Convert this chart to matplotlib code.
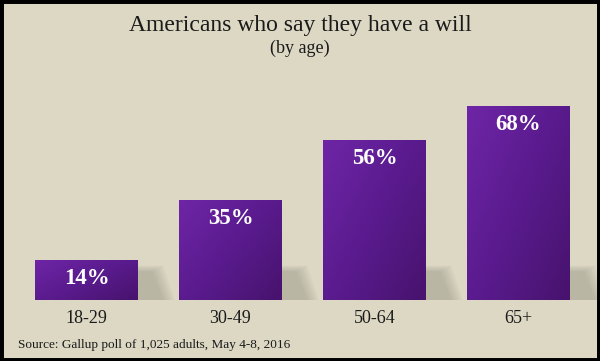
import numpy as np
import matplotlib.pyplot as plt
from matplotlib.patches import Rectangle, Polygon
from matplotlib.colors import LinearSegmentedColormap

# data
ages = ["18-29", "30-49", "50-64", "65+"]
share = [14, 35, 56, 68]
title = "Americans who say they have a will"
subtitle = "(by age)"
source = "Source: Gallup poll of 1,025 adults, May 4-8, 2016"

bg = "#dcd8c4"
serif = ["Liberation Serif", "DejaVu Serif"]

fig = plt.figure(figsize=(6, 3.61), dpi=100, facecolor=bg)
ax = fig.add_axes([0, 0, 1, 1])
ax.set_facecolor(bg)
ax.axis("off")

width = 0.715
cmap = LinearSegmentedColormap.from_list("purp", ["#6e25a6", "#5a1b8e", "#47136d"])
gx, gy = np.meshgrid(np.linspace(0, 1, 60), np.linspace(0, 1, 60))
grad = 0.55 * gx + 0.45 * gy  # row 0 is the top of the bar

x = np.arange(len(ages))

# soft shadows to the right of each bar
for i in x:
    right = i + width / 2
    for k in range(6):
        off = k * 0.015
        shadow = Polygon(
            [(right - 0.05, 0), (right + 0.18 + off, 0),
             (right + 0.1 + off, 10 + k * 0.4), (right - 0.05, 10 + k * 0.4)],
            closed=True, facecolor="#8a8778", edgecolor="none", alpha=0.08, zorder=1,
        )
        ax.add_patch(shadow)

bars = ax.bar(x, share, width=width, color="#5c1c90", zorder=2)
for b, v in zip(bars, share):
    x0 = b.get_x()
    im = ax.imshow(grad, cmap=cmap, extent=[x0, x0 + width, 0, v],
                   origin="upper", aspect="auto", zorder=3)
    im.set_clip_path(b)
    ax.text(x0 + width / 2, v - 6.6, f"{v}%", ha="center", va="center",
            color="white", fontsize=16.5, fontweight="bold", family=serif, zorder=4)

for i, lab in enumerate(ages):
    ax.text(i, -6.3, lab, ha="center", va="center", fontsize=13,
            family=serif, color="#1a1a1a")

# pixel mapping: bar centres 86.5 + 144*i, baseline at y=300, ~2.86 px per %
ax.set_xlim(-86.5 / 144, (600 - 86.5) / 144)
ax.set_ylim(-61 / 2.86, 300 / 2.86)

fig.text(0.5, 1 - 25 / 361, title, ha="center", va="center", fontsize=17,
         family=serif, color="#1a1a1a")
fig.text(0.5, 1 - 48 / 361, subtitle, ha="center", va="center", fontsize=13,
         family=serif, color="#1a1a1a")
fig.text(18 / 600, 1 - 345 / 361, source, ha="left", va="center", fontsize=9.5,
         family=serif, color="#1a1a1a")

# black frame
fig.patches.append(Rectangle((0, 0), 1, 1, transform=fig.transFigure, fill=False,
                             edgecolor="black", linewidth=5, zorder=10))

fig.savefig("out.png", dpi=100, facecolor=bg)
